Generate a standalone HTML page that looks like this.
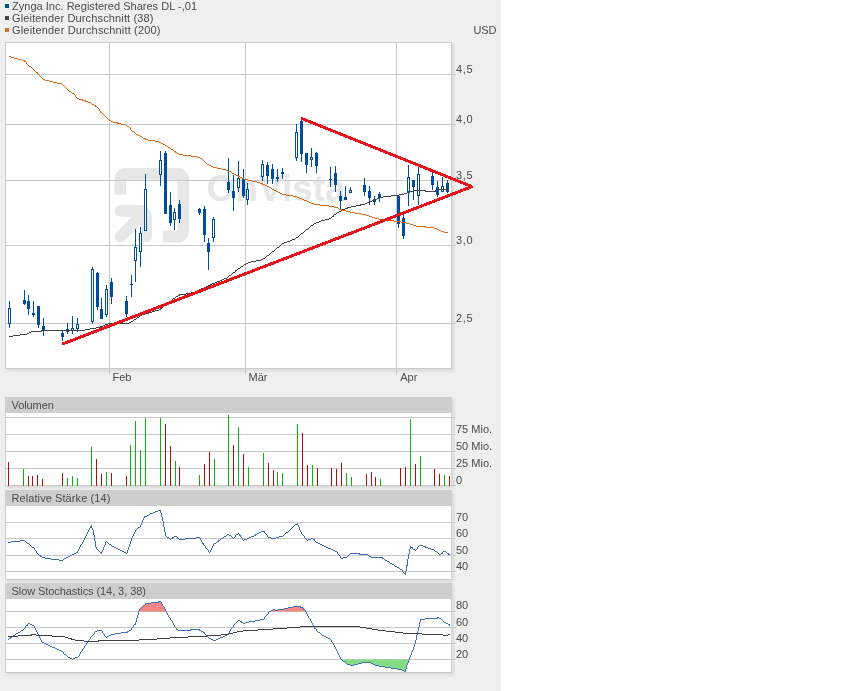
<!DOCTYPE html>
<html lang="de"><head><meta charset="utf-8"><title>Zynga Inc. Registered Shares DL -,01 – Chart</title>
<style>
html,body{margin:0;padding:0;background:#ffffff;}
body{width:850px;height:691px;overflow:hidden;position:relative;font-family:"Liberation Sans",sans-serif;}
#chart{position:absolute;left:0;top:0;width:501px;height:691px;background:#efefef;}
svg{position:absolute;left:0;top:0;display:block;}
svg text{font-family:"Liberation Sans",sans-serif;font-size:11px;fill:#484c4c;}
.wm{font-size:37px;font-weight:bold;fill:#e7e7e7;letter-spacing:0px;}
</style></head><body>
<div id="chart">
<svg width="501" height="691" viewBox="0 0 501 691">
<defs>
<filter id="sh" x="-5%" y="-5%" width="110%" height="115%"><feGaussianBlur stdDeviation="1.5"/></filter>
</defs>
<rect x="7" y="44" width="447" height="327" fill="#001008" opacity="0.09" filter="url(#sh)"/>
<rect x="7" y="399" width="447" height="89" fill="#001008" opacity="0.09" filter="url(#sh)"/>
<rect x="7" y="492" width="447" height="90" fill="#001008" opacity="0.09" filter="url(#sh)"/>
<rect x="7" y="585" width="447" height="90" fill="#001008" opacity="0.09" filter="url(#sh)"/>
<rect x="5" y="4" width="4" height="4" fill="#034c9b"/>
<rect x="5" y="16" width="4" height="4" fill="#444444"/>
<rect x="5" y="28" width="4" height="4" fill="#e0701e"/>
<text x="12" y="10" textLength="185" lengthAdjust="spacing">Zynga Inc. Registered Shares DL -,01</text>
<text x="12" y="22" textLength="141.5" lengthAdjust="spacing">Gleitender Durchschnitt (38)</text>
<text x="12" y="34" textLength="148.5" lengthAdjust="spacing">Gleitender Durchschnitt (200)</text>
<text x="473.5" y="34" textLength="23" lengthAdjust="spacing">USD</text>
<rect x="5" y="42" width="447" height="327" fill="#ffffff"/>
<g fill="none" stroke="#e7e7e7" stroke-width="11.6">
<path d="M120.2 194.5 V179.7 A5.8 5.8 0 0 1 126 173.9 H177.5 A5.8 5.8 0 0 1 183.3 179.7 V230.8 A5.8 5.8 0 0 1 177.5 236.6 H163"/>
<path stroke-linecap="round" stroke-linejoin="round" d="M120.3 210.9 H140.2 A5.8 5.8 0 0 1 146 216.7 V236.4"/>
<path stroke-linecap="round" d="M120.4 236.5 L144 213"/>
</g>
<text class="wm" x="206.5" y="200.5">OnVista</text>
<rect x="6" y="74" width="450" height="1" fill="#c9c9c9"/>
<rect x="6" y="124" width="450" height="1" fill="#c9c9c9"/>
<rect x="6" y="180" width="450" height="1" fill="#c9c9c9"/>
<rect x="6" y="245" width="450" height="1" fill="#c9c9c9"/>
<rect x="6" y="323" width="450" height="1" fill="#c9c9c9"/>
<rect x="109" y="43" width="1" height="332" fill="#c9c9c9"/>
<rect x="245" y="43" width="1" height="332" fill="#c9c9c9"/>
<rect x="396" y="43" width="1" height="332" fill="#c9c9c9"/>
<rect x="5.5" y="42.5" width="446" height="326" fill="none" stroke="#cbcbcb" stroke-width="1"/>
<g fill="#034c9b" shape-rendering="crispEdges">
<rect x="9" y="301" width="1" height="27"/>
<rect x="8" y="308" width="3" height="16"/>
<rect x="9" y="309" width="1" height="14" fill="#ffffff"/>
<rect x="24" y="290" width="1" height="15"/>
<rect x="23" y="300" width="3" height="4"/>
<rect x="28" y="295" width="1" height="20"/>
<rect x="27" y="301" width="3" height="8"/>
<rect x="33" y="301" width="1" height="16"/>
<rect x="32" y="313" width="3" height="2"/>
<rect x="38" y="306" width="1" height="22"/>
<rect x="37" y="306" width="3" height="19"/>
<rect x="43" y="318" width="1" height="18"/>
<rect x="42" y="326" width="3" height="5"/>
<rect x="62" y="331" width="1" height="10"/>
<rect x="61" y="333" width="3" height="4"/>
<rect x="67" y="323" width="1" height="11"/>
<rect x="66" y="329" width="3" height="3"/>
<rect x="72" y="316" width="1" height="18"/>
<rect x="71" y="328" width="3" height="3"/>
<rect x="72" y="329" width="1" height="1" fill="#ffffff"/>
<rect x="77" y="318" width="1" height="14"/>
<rect x="76" y="324" width="3" height="5"/>
<rect x="77" y="325" width="1" height="3" fill="#ffffff"/>
<rect x="92" y="267" width="1" height="57"/>
<rect x="91" y="269" width="3" height="53"/>
<rect x="92" y="270" width="1" height="51" fill="#ffffff"/>
<rect x="97" y="272" width="1" height="38"/>
<rect x="96" y="273" width="3" height="34"/>
<rect x="101" y="298" width="1" height="21"/>
<rect x="100" y="309" width="3" height="10"/>
<rect x="106" y="285" width="1" height="32"/>
<rect x="105" y="289" width="3" height="26"/>
<rect x="106" y="290" width="1" height="24" fill="#ffffff"/>
<rect x="111" y="278" width="1" height="26"/>
<rect x="110" y="282" width="3" height="15"/>
<rect x="126" y="296" width="1" height="21"/>
<rect x="125" y="301" width="3" height="13"/>
<rect x="131" y="275" width="1" height="22"/>
<rect x="130" y="284" width="3" height="1"/>
<rect x="135" y="229" width="1" height="53"/>
<rect x="134" y="247" width="3" height="14"/>
<rect x="135" y="248" width="1" height="12" fill="#ffffff"/>
<rect x="140" y="227" width="1" height="40"/>
<rect x="139" y="233" width="3" height="19"/>
<rect x="140" y="234" width="1" height="17" fill="#ffffff"/>
<rect x="145" y="174" width="1" height="57"/>
<rect x="144" y="189" width="3" height="42"/>
<rect x="145" y="190" width="1" height="40" fill="#ffffff"/>
<rect x="160" y="151" width="1" height="35"/>
<rect x="159" y="160" width="3" height="15"/>
<rect x="160" y="161" width="1" height="13" fill="#ffffff"/>
<rect x="165" y="151" width="1" height="63"/>
<rect x="164" y="153" width="3" height="61"/>
<rect x="170" y="192" width="1" height="34"/>
<rect x="169" y="205" width="3" height="18"/>
<rect x="174" y="208" width="1" height="22"/>
<rect x="173" y="212" width="3" height="8"/>
<rect x="174" y="213" width="1" height="6" fill="#ffffff"/>
<rect x="179" y="200" width="1" height="23"/>
<rect x="178" y="204" width="3" height="15"/>
<rect x="199" y="208" width="1" height="7"/>
<rect x="198" y="209" width="3" height="4"/>
<rect x="204" y="206" width="1" height="36"/>
<rect x="203" y="209" width="3" height="26"/>
<rect x="208" y="238" width="1" height="32"/>
<rect x="207" y="243" width="3" height="9"/>
<rect x="213" y="217" width="1" height="25"/>
<rect x="212" y="219" width="3" height="19"/>
<rect x="213" y="220" width="1" height="17" fill="#ffffff"/>
<rect x="228" y="158" width="1" height="35"/>
<rect x="227" y="182" width="3" height="8"/>
<rect x="233" y="175" width="1" height="36"/>
<rect x="232" y="191" width="3" height="7"/>
<rect x="238" y="161" width="1" height="31"/>
<rect x="237" y="178" width="3" height="10"/>
<rect x="238" y="179" width="1" height="8" fill="#ffffff"/>
<rect x="243" y="169" width="1" height="29"/>
<rect x="242" y="179" width="3" height="17"/>
<rect x="247" y="183" width="1" height="22"/>
<rect x="246" y="189" width="3" height="11"/>
<rect x="247" y="190" width="1" height="9" fill="#ffffff"/>
<rect x="262" y="160" width="1" height="21"/>
<rect x="261" y="164" width="3" height="13"/>
<rect x="262" y="165" width="1" height="11" fill="#ffffff"/>
<rect x="267" y="162" width="1" height="22"/>
<rect x="266" y="165" width="3" height="11"/>
<rect x="272" y="164" width="1" height="20"/>
<rect x="271" y="169" width="3" height="10"/>
<rect x="277" y="169" width="1" height="13"/>
<rect x="276" y="177" width="3" height="2"/>
<rect x="282" y="168" width="1" height="11"/>
<rect x="281" y="172" width="3" height="2"/>
<rect x="296" y="124" width="1" height="37"/>
<rect x="295" y="132" width="3" height="26"/>
<rect x="296" y="133" width="1" height="24" fill="#ffffff"/>
<rect x="301" y="120" width="1" height="42"/>
<rect x="300" y="121" width="3" height="33"/>
<rect x="306" y="153" width="1" height="20"/>
<rect x="305" y="153" width="3" height="12"/>
<rect x="311" y="148" width="1" height="19"/>
<rect x="310" y="157" width="3" height="3"/>
<rect x="311" y="158" width="1" height="1" fill="#ffffff"/>
<rect x="316" y="152" width="1" height="21"/>
<rect x="315" y="153" width="3" height="13"/>
<rect x="330" y="167" width="1" height="20"/>
<rect x="329" y="179" width="3" height="1"/>
<rect x="335" y="166" width="1" height="26"/>
<rect x="334" y="173" width="3" height="12"/>
<rect x="340" y="191" width="1" height="18"/>
<rect x="339" y="196" width="3" height="5"/>
<rect x="345" y="186" width="1" height="14"/>
<rect x="344" y="197" width="3" height="3"/>
<rect x="350" y="187" width="1" height="6"/>
<rect x="349" y="190" width="3" height="3"/>
<rect x="350" y="191" width="1" height="1" fill="#ffffff"/>
<rect x="364" y="178" width="1" height="18"/>
<rect x="363" y="185" width="3" height="7"/>
<rect x="369" y="186" width="1" height="19"/>
<rect x="368" y="191" width="3" height="7"/>
<rect x="374" y="196" width="1" height="9"/>
<rect x="373" y="199" width="3" height="3"/>
<rect x="374" y="200" width="1" height="1" fill="#ffffff"/>
<rect x="379" y="192" width="1" height="10"/>
<rect x="378" y="194" width="3" height="4"/>
<rect x="398" y="196" width="1" height="32"/>
<rect x="397" y="196" width="3" height="28"/>
<rect x="403" y="214" width="1" height="25"/>
<rect x="402" y="218" width="3" height="18"/>
<rect x="408" y="165" width="1" height="41"/>
<rect x="407" y="177" width="3" height="15"/>
<rect x="408" y="178" width="1" height="13" fill="#ffffff"/>
<rect x="413" y="180" width="1" height="20"/>
<rect x="412" y="180" width="3" height="7"/>
<rect x="418" y="167" width="1" height="38"/>
<rect x="417" y="174" width="3" height="22"/>
<rect x="418" y="175" width="1" height="20" fill="#ffffff"/>
<rect x="432" y="172" width="1" height="18"/>
<rect x="431" y="176" width="3" height="9"/>
<rect x="437" y="181" width="1" height="16"/>
<rect x="436" y="187" width="3" height="8"/>
<rect x="442" y="177" width="1" height="15"/>
<rect x="441" y="186" width="3" height="6"/>
<rect x="442" y="187" width="1" height="4" fill="#ffffff"/>
<rect x="447" y="180" width="1" height="13"/>
<rect x="446" y="183" width="3" height="9"/>
</g>
<path d="M9 56.5h2M11 57.5h3M14 58.5h4M18 59.5h4M22 60.5h3M24 61.5h2M26 62.5h1M26 63.5h1M27 64.5h1M28 65.5h1M29 66.5h2M31 67.5h1M32 68.5h1M33 69.5h1M34 70.5h1M35 71.5h1M36 72.5h2M37 73.5h1M38 74.5h1M39 75.5h1M40 76.5h1M41 77.5h1M42 78.5h1M43 79.5h2M45 80.5h4M49 81.5h4M53 82.5h4M57 83.5h5M62 84.5h1M63 85.5h1M64 86.5h1M65 87.5h1M66 88.5h1M67 89.5h1M68 90.5h1M69 91.5h2M71 92.5h1M72 93.5h2M74 94.5h1M75 95.5h1M75 96.5h1M76 97.5h1M77 98.5h2M79 99.5h4M82 100.5h4M85 101.5h3M88 102.5h3M91 103.5h1M92 104.5h2M94 105.5h2M95 106.5h2M97 107.5h1M98 108.5h1M99 109.5h1M99 110.5h1M100 111.5h1M100 112.5h2M102 113.5h1M103 114.5h1M104 115.5h1M105 116.5h1M106 117.5h1M107 118.5h1M108 119.5h1M109 120.5h2M111 121.5h2M113 122.5h5M117 123.5h4M121 124.5h5M126 125.5h1M127 126.5h2M129 127.5h1M130 128.5h1M130 129.5h1M131 130.5h1M132 131.5h2M134 132.5h1M135 133.5h1M136 134.5h2M138 135.5h2M140 136.5h2M142 137.5h1M143 138.5h3M145 139.5h3M148 140.5h7M155 141.5h4M159 142.5h2M161 143.5h2M163 144.5h2M165 145.5h2M167 146.5h1M168 147.5h2M170 148.5h1M171 149.5h2M173 150.5h1M174 151.5h2M175 152.5h2M177 153.5h2M179 154.5h4M183 155.5h8M191 156.5h6M197 157.5h3M200 158.5h2M202 159.5h1M203 160.5h1M204 161.5h1M205 162.5h1M206 163.5h1M207 164.5h2M209 165.5h2M211 166.5h2M213 167.5h4M217 168.5h5M222 169.5h4M226 170.5h2M228 171.5h3M231 172.5h1M232 173.5h2M234 174.5h2M236 175.5h2M238 176.5h2M240 177.5h2M242 178.5h2M244 179.5h4M248 180.5h4M252 181.5h5M257 182.5h3M260 183.5h3M262 184.5h3M265 185.5h2M267 186.5h2M269 187.5h2M271 188.5h1M272 189.5h2M274 190.5h2M276 191.5h2M278 192.5h2M280 193.5h2M282 194.5h4M286 195.5h7M293 196.5h4M297 197.5h2M299 198.5h3M302 199.5h2M304 200.5h3M307 201.5h2M309 202.5h2M311 203.5h3M314 204.5h6M320 205.5h9M329 206.5h5M334 207.5h4M338 208.5h1M339 209.5h3M342 210.5h4M346 211.5h4M350 212.5h5M355 213.5h6M361 214.5h5M366 215.5h3M369 216.5h3M372 217.5h3M375 218.5h4M379 219.5h7M386 220.5h8M394 221.5h7M401 222.5h5M406 223.5h4M410 224.5h3M413 225.5h3M416 226.5h10M426 227.5h8M434 228.5h3M437 229.5h2M439 230.5h2M441 231.5h3M444 232.5h4" fill="none" stroke="#db6814" stroke-width="1" shape-rendering="crispEdges"/>
<path d="M437 189.5h11M413 190.5h13M435 190.5h2M410 191.5h3M425 191.5h11M407 192.5h3M404 193.5h3M399 194.5h5M391 195.5h8M383 196.5h8M379 197.5h4M377 198.5h2M375 199.5h2M372 200.5h3M370 201.5h2M367 202.5h3M365 203.5h2M360 204.5h5M356 205.5h5M351 206.5h5M347 207.5h4M345 208.5h3M342 209.5h3M341 210.5h1M339 211.5h2M337 212.5h2M336 213.5h1M334 214.5h2M333 215.5h1M332 216.5h2M331 217.5h1M329 218.5h2M325 219.5h4M321 220.5h4M319 221.5h2M316 222.5h3M314 223.5h2M313 224.5h1M311 225.5h2M310 226.5h1M309 227.5h1M308 228.5h1M306 229.5h2M305 230.5h1M304 231.5h1M303 232.5h1M301 233.5h2M300 234.5h1M299 235.5h1M298 236.5h1M296 237.5h2M295 238.5h1M292 239.5h3M290 240.5h2M287 241.5h3M284 242.5h3M282 243.5h2M281 244.5h1M280 245.5h1M279 246.5h1M277 247.5h2M276 248.5h1M275 249.5h1M274 250.5h1M272 251.5h2M271 252.5h1M270 253.5h1M269 254.5h1M267 255.5h2M266 256.5h1M265 257.5h1M263 258.5h2M261 259.5h2M256 260.5h5M251 261.5h5M248 262.5h3M246 263.5h2M244 264.5h2M243 265.5h1M241 266.5h2M240 267.5h1M238 268.5h2M237 269.5h1M235 270.5h2M235 271.5h1M233 272.5h2M232 273.5h1M231 274.5h1M229 275.5h2M228 276.5h1M227 277.5h1M224 278.5h3M222 279.5h2M220 280.5h2M217 281.5h3M215 282.5h2M212 283.5h3M210 284.5h2M208 285.5h2M206 286.5h2M204 287.5h2M201 288.5h3M199 289.5h2M198 290.5h1M195 291.5h3M191 292.5h4M186 293.5h5M179 294.5h7M178 295.5h2M176 296.5h2M175 297.5h1M173 298.5h2M172 299.5h1M171 300.5h1M170 301.5h1M168 302.5h2M167 303.5h1M166 304.5h1M164 305.5h2M163 306.5h1M162 307.5h1M160 308.5h2M159 309.5h2M155 310.5h4M152 311.5h3M149 312.5h3M145 313.5h4M142 314.5h3M140 315.5h2M139 316.5h1M137 317.5h2M136 318.5h1M134 319.5h2M133 320.5h1M131 321.5h2M129 322.5h2M108 323.5h21M105 324.5h3M103 325.5h2M100 326.5h3M96 327.5h5M90 328.5h6M85 329.5h5M41 330.5h44M31 331.5h11M29 332.5h2M27 333.5h2M20 334.5h7M13 335.5h7M9 336.5h4" fill="none" stroke="#424242" stroke-width="1" shape-rendering="crispEdges"/>
<g stroke="#e8131c" stroke-width="3" stroke-linecap="round" fill="none" shape-rendering="crispEdges">
<path d="M63.5 343.6 L471.3 186.9"/>
<path d="M302.2 118.6 L471.3 186.4"/>
</g>
<text x="456" y="73" textLength="16.5" lengthAdjust="spacing">4,5</text>
<text x="456" y="123" textLength="16.5" lengthAdjust="spacing">4,0</text>
<text x="456" y="179" textLength="16.5" lengthAdjust="spacing">3,5</text>
<text x="456" y="244" textLength="16.5" lengthAdjust="spacing">3,0</text>
<text x="456" y="322" textLength="16.5" lengthAdjust="spacing">2,5</text>
<text x="112.5" y="381">Feb</text>
<text x="248.5" y="381">Mär</text>
<text x="400.2" y="381">Apr</text>
<rect x="5" y="397" width="447" height="89" fill="#ffffff"/>
<rect x="5" y="397" width="447" height="16" fill="#cecece"/>
<rect x="5" y="413" width="1" height="73" fill="#cfcfcf"/>
<rect x="451" y="413" width="1" height="73" fill="#d6d6d6"/>
<rect x="5" y="485" width="447" height="1" fill="#c9c9c9"/>
<rect x="6" y="417" width="450" height="1" fill="#c9c9c9"/>
<rect x="6" y="434" width="450" height="1" fill="#c9c9c9"/>
<rect x="6" y="451" width="450" height="1" fill="#c9c9c9"/>
<rect x="6" y="468" width="450" height="1" fill="#c9c9c9"/>
<text x="11.5" y="408.6" textLength="42.3" lengthAdjust="spacing">Volumen</text>
<text x="456" y="433">75 Mio.</text>
<text x="456" y="450">50 Mio.</text>
<text x="456" y="467">25 Mio.</text>
<text x="456" y="483.5">0</text>
<rect x="452" y="485" width="4" height="1" fill="#c9c9c9"/>
<g shape-rendering="crispEdges">
<rect x="8" y="462" width="1" height="24" fill="#b40d0d"/>
<rect x="23" y="469" width="1" height="17" fill="#0db40d"/>
<rect x="28" y="476" width="1" height="10" fill="#b40d0d"/>
<rect x="32" y="476" width="1" height="10" fill="#b40d0d"/>
<rect x="37" y="475" width="1" height="11" fill="#b40d0d"/>
<rect x="42" y="479" width="1" height="7" fill="#b40d0d"/>
<rect x="62" y="473" width="1" height="13" fill="#b40d0d"/>
<rect x="67" y="478" width="1" height="8" fill="#0db40d"/>
<rect x="72" y="476" width="1" height="10" fill="#0db40d"/>
<rect x="77" y="478" width="1" height="8" fill="#0db40d"/>
<rect x="91" y="447" width="1" height="39" fill="#0db40d"/>
<rect x="96" y="459" width="1" height="27" fill="#b40d0d"/>
<rect x="101" y="474" width="1" height="12" fill="#b40d0d"/>
<rect x="106" y="472" width="1" height="14" fill="#0db40d"/>
<rect x="111" y="473" width="1" height="13" fill="#b40d0d"/>
<rect x="126" y="476" width="1" height="10" fill="#b40d0d"/>
<rect x="130" y="445" width="1" height="41" fill="#0db40d"/>
<rect x="135" y="421" width="1" height="65" fill="#0db40d"/>
<rect x="140" y="450" width="1" height="36" fill="#0db40d"/>
<rect x="145" y="418" width="1" height="68" fill="#0db40d"/>
<rect x="160" y="418" width="1" height="68" fill="#0db40d"/>
<rect x="165" y="424" width="1" height="62" fill="#b40d0d"/>
<rect x="170" y="446" width="1" height="40" fill="#b40d0d"/>
<rect x="175" y="461" width="1" height="25" fill="#0db40d"/>
<rect x="179" y="467" width="1" height="19" fill="#b40d0d"/>
<rect x="199" y="475" width="1" height="11" fill="#0db40d"/>
<rect x="204" y="464" width="1" height="22" fill="#b40d0d"/>
<rect x="209" y="452" width="1" height="34" fill="#b40d0d"/>
<rect x="214" y="459" width="1" height="27" fill="#0db40d"/>
<rect x="228" y="415" width="1" height="71" fill="#0db40d"/>
<rect x="233" y="445" width="1" height="41" fill="#b40d0d"/>
<rect x="238" y="427" width="1" height="59" fill="#0db40d"/>
<rect x="243" y="454" width="1" height="32" fill="#b40d0d"/>
<rect x="248" y="467" width="1" height="19" fill="#0db40d"/>
<rect x="263" y="453" width="1" height="33" fill="#0db40d"/>
<rect x="268" y="463" width="1" height="23" fill="#b40d0d"/>
<rect x="273" y="470" width="1" height="16" fill="#b40d0d"/>
<rect x="277" y="472" width="1" height="14" fill="#0db40d"/>
<rect x="282" y="473" width="1" height="13" fill="#0db40d"/>
<rect x="297" y="424" width="1" height="62" fill="#0db40d"/>
<rect x="302" y="433" width="1" height="53" fill="#b40d0d"/>
<rect x="307" y="465" width="1" height="21" fill="#b40d0d"/>
<rect x="312" y="465" width="1" height="21" fill="#0db40d"/>
<rect x="317" y="468" width="1" height="18" fill="#b40d0d"/>
<rect x="331" y="468" width="1" height="18" fill="#b40d0d"/>
<rect x="336" y="469" width="1" height="17" fill="#b40d0d"/>
<rect x="341" y="463" width="1" height="23" fill="#b40d0d"/>
<rect x="346" y="473" width="1" height="13" fill="#0db40d"/>
<rect x="351" y="477" width="1" height="9" fill="#0db40d"/>
<rect x="366" y="474" width="1" height="12" fill="#b40d0d"/>
<rect x="371" y="472" width="1" height="14" fill="#b40d0d"/>
<rect x="375" y="477" width="1" height="9" fill="#b40d0d"/>
<rect x="380" y="479" width="1" height="7" fill="#0db40d"/>
<rect x="400" y="468" width="1" height="18" fill="#b40d0d"/>
<rect x="405" y="467" width="1" height="19" fill="#b40d0d"/>
<rect x="410" y="419" width="1" height="67" fill="#0db40d"/>
<rect x="415" y="464" width="1" height="22" fill="#b40d0d"/>
<rect x="420" y="456" width="1" height="30" fill="#0db40d"/>
<rect x="434" y="469" width="1" height="17" fill="#b40d0d"/>
<rect x="439" y="474" width="1" height="12" fill="#b40d0d"/>
<rect x="444" y="475" width="1" height="11" fill="#0db40d"/>
<rect x="449" y="476" width="1" height="10" fill="#b40d0d"/>
</g>
<rect x="5" y="490" width="447" height="90" fill="#ffffff"/>
<rect x="5" y="490" width="447" height="16" fill="#cecece"/>
<rect x="5" y="506" width="1" height="74" fill="#cfcfcf"/>
<rect x="451" y="506" width="1" height="74" fill="#d6d6d6"/>
<rect x="5" y="579" width="447" height="1" fill="#c9c9c9"/>
<rect x="6" y="522" width="450" height="1" fill="#c9c9c9"/>
<rect x="6" y="538" width="450" height="1" fill="#c9c9c9"/>
<rect x="6" y="555" width="450" height="1" fill="#c9c9c9"/>
<rect x="6" y="571" width="450" height="1" fill="#c9c9c9"/>
<text x="11.5" y="501.6" textLength="98.8" lengthAdjust="spacing">Relative Stärke (14)</text>
<text x="456" y="520.5">70</text>
<text x="456" y="537">60</text>
<text x="456" y="553.5">50</text>
<text x="456" y="569.5">40</text>
<path d="M158 510.5h3M155 511.5h3M160 511.5h1M153 512.5h2M160 512.5h1M150 513.5h3M161 513.5h1M149 514.5h1M161 514.5h1M147 515.5h2M161 515.5h1M144 516.5h3M161 516.5h1M144 517.5h1M162 517.5h1M143 518.5h1M162 518.5h1M143 519.5h1M162 519.5h1M142 520.5h1M162 520.5h1M142 521.5h1M163 521.5h1M142 522.5h1M163 522.5h1M141 523.5h1M163 523.5h1M297 523.5h1M141 524.5h1M163 524.5h1M295 524.5h3M91 525.5h1M140 525.5h1M163 525.5h1M294 525.5h1M298 525.5h1M90 526.5h2M140 526.5h1M163 526.5h1M293 526.5h1M298 526.5h1M90 527.5h2M138 527.5h2M164 527.5h1M292 527.5h1M299 527.5h1M89 528.5h1M92 528.5h1M137 528.5h1M164 528.5h1M291 528.5h1M299 528.5h1M89 529.5h1M92 529.5h1M136 529.5h1M164 529.5h1M290 529.5h1M299 529.5h1M88 530.5h1M93 530.5h1M135 530.5h1M164 530.5h1M289 530.5h1M300 530.5h1M88 531.5h1M93 531.5h1M135 531.5h1M164 531.5h1M261 531.5h4M288 531.5h1M300 531.5h1M87 532.5h1M93 532.5h1M134 532.5h1M165 532.5h1M259 532.5h2M264 532.5h1M286 532.5h2M301 532.5h1M87 533.5h1M93 533.5h1M134 533.5h1M165 533.5h1M238 533.5h1M257 533.5h2M265 533.5h1M285 533.5h1M301 533.5h1M86 534.5h1M93 534.5h1M133 534.5h1M165 534.5h1M227 534.5h2M236 534.5h2M239 534.5h1M255 534.5h2M266 534.5h1M284 534.5h1M302 534.5h1M86 535.5h1M94 535.5h1M133 535.5h1M165 535.5h1M226 535.5h1M229 535.5h2M235 535.5h1M239 535.5h2M254 535.5h2M267 535.5h1M283 535.5h1M303 535.5h1M85 536.5h1M94 536.5h1M132 536.5h1M166 536.5h1M174 536.5h3M224 536.5h2M231 536.5h1M235 536.5h1M240 536.5h1M251 536.5h3M267 536.5h1M279 536.5h4M304 536.5h1M85 537.5h1M94 537.5h1M132 537.5h1M167 537.5h2M172 537.5h2M177 537.5h1M196 537.5h4M223 537.5h1M232 537.5h1M234 537.5h1M241 537.5h1M249 537.5h2M268 537.5h3M276 537.5h3M304 537.5h1M84 538.5h1M94 538.5h1M131 538.5h1M169 538.5h1M171 538.5h2M177 538.5h2M185 538.5h11M200 538.5h1M221 538.5h2M233 538.5h1M242 538.5h1M247 538.5h2M271 538.5h5M305 538.5h1M311 538.5h2M84 539.5h1M94 539.5h1M131 539.5h1M170 539.5h1M179 539.5h6M200 539.5h1M220 539.5h1M242 539.5h1M244 539.5h3M306 539.5h1M308 539.5h3M313 539.5h2M20 540.5h5M83 540.5h1M94 540.5h1M131 540.5h1M201 540.5h1M218 540.5h2M243 540.5h1M307 540.5h1M314 540.5h1M11 541.5h9M25 541.5h1M83 541.5h1M95 541.5h1M106 541.5h1M130 541.5h1M201 541.5h1M217 541.5h2M315 541.5h1M8 542.5h3M26 542.5h1M82 542.5h1M95 542.5h1M105 542.5h1M107 542.5h1M130 542.5h1M202 542.5h1M216 542.5h1M316 542.5h2M27 543.5h2M82 543.5h1M95 543.5h1M105 543.5h1M108 543.5h1M130 543.5h1M202 543.5h2M214 543.5h2M318 543.5h2M29 544.5h1M81 544.5h1M95 544.5h1M105 544.5h1M109 544.5h2M129 544.5h1M203 544.5h1M213 544.5h1M320 544.5h2M30 545.5h1M80 545.5h1M95 545.5h1M104 545.5h1M111 545.5h1M129 545.5h1M204 545.5h1M213 545.5h1M322 545.5h2M419 545.5h4M31 546.5h1M80 546.5h1M95 546.5h1M104 546.5h1M112 546.5h2M129 546.5h1M205 546.5h1M212 546.5h1M324 546.5h2M410 546.5h1M418 546.5h1M423 546.5h3M32 547.5h2M79 547.5h1M96 547.5h1M103 547.5h1M114 547.5h2M128 547.5h1M205 547.5h1M212 547.5h1M326 547.5h2M410 547.5h3M417 547.5h1M425 547.5h3M34 548.5h1M79 548.5h1M96 548.5h1M103 548.5h1M116 548.5h2M128 548.5h1M206 548.5h1M211 548.5h1M328 548.5h3M410 548.5h1M412 548.5h1M417 548.5h1M428 548.5h3M34 549.5h1M78 549.5h1M97 549.5h1M103 549.5h1M118 549.5h2M128 549.5h1M207 549.5h1M211 549.5h1M331 549.5h2M409 549.5h1M413 549.5h2M416 549.5h1M431 549.5h3M35 550.5h1M78 550.5h1M98 550.5h1M102 550.5h1M120 550.5h2M127 550.5h1M208 550.5h1M210 550.5h1M333 550.5h2M409 550.5h1M415 550.5h1M434 550.5h1M36 551.5h1M77 551.5h1M99 551.5h1M102 551.5h1M122 551.5h2M127 551.5h1M208 551.5h1M210 551.5h1M335 551.5h2M409 551.5h1M435 551.5h2M443 551.5h3M36 552.5h1M76 552.5h2M100 552.5h2M124 552.5h2M127 552.5h1M209 552.5h1M337 552.5h1M409 552.5h1M437 552.5h1M442 552.5h1M446 552.5h1M37 553.5h1M74 553.5h2M101 553.5h1M126 553.5h1M337 553.5h1M350 553.5h10M409 553.5h1M438 553.5h1M441 553.5h2M447 553.5h2M38 554.5h1M72 554.5h2M338 554.5h1M349 554.5h1M359 554.5h9M408 554.5h1M439 554.5h2M448 554.5h2M39 555.5h2M70 555.5h2M339 555.5h1M348 555.5h1M368 555.5h1M408 555.5h1M40 556.5h2M68 556.5h2M340 556.5h1M347 556.5h1M369 556.5h2M408 556.5h1M42 557.5h3M66 557.5h2M340 557.5h1M343 557.5h4M371 557.5h12M408 557.5h1M45 558.5h6M64 558.5h2M341 558.5h2M382 558.5h2M408 558.5h1M51 559.5h8M63 559.5h1M384 559.5h1M407 559.5h1M59 560.5h4M385 560.5h2M407 560.5h1M387 561.5h2M407 561.5h1M389 562.5h1M407 562.5h1M390 563.5h2M407 563.5h1M392 564.5h2M407 564.5h1M394 565.5h1M406 565.5h2M395 566.5h2M406 566.5h1M397 567.5h2M406 567.5h1M399 568.5h1M406 568.5h1M400 569.5h2M406 569.5h1M402 570.5h1M406 570.5h1M402 571.5h1M405 571.5h1M403 572.5h1M405 572.5h1M404 573.5h2M405 574.5h1" fill="none" stroke="#4169b0" stroke-width="1" shape-rendering="crispEdges"/>
<rect x="5" y="583" width="447" height="90" fill="#ffffff"/>
<rect x="5" y="583" width="447" height="16" fill="#cecece"/>
<rect x="5" y="599" width="1" height="74" fill="#cfcfcf"/>
<rect x="451" y="599" width="1" height="74" fill="#d6d6d6"/>
<rect x="5" y="672" width="447" height="1" fill="#c9c9c9"/>
<rect x="6" y="611" width="450" height="1" fill="#c9c9c9"/>
<rect x="6" y="627" width="450" height="1" fill="#c9c9c9"/>
<rect x="6" y="643" width="450" height="1" fill="#c9c9c9"/>
<rect x="6" y="659" width="450" height="1" fill="#c9c9c9"/>
<text x="11.5" y="594.6" textLength="134.4" lengthAdjust="spacing">Slow Stochastics (14, 3, 38)</text>
<text x="456" y="609">80</text>
<text x="456" y="625.5">60</text>
<text x="456" y="641.5">40</text>
<text x="456" y="657.5">20</text>
<polygon points="139.0,611.5 140.1,608.2 145.1,604.2 148.3,603.3 157.3,602.2 160.6,601.4 165.5,610.7 166.0,611.5" fill="#f58484"/>
<polygon points="269.8,611.5 273.9,609.1 275.5,610.4 280.4,609.6 287.7,608.2 296.7,606.3 299.2,606.3 303.3,608.2 305.5,611.5" fill="#f58484"/>
<polygon points="341.6,659.5 346.3,663.8 351.2,665.5 364.2,662.5 370.8,662.5 375.7,665.5 390.4,667.9 400.2,669.5 405.1,671.7 409.1,659.5" fill="#84dc84"/>
<path d="M158 601.5h3M151 602.5h8M161 602.5h1M145 603.5h6M161 603.5h1M145 604.5h1M162 604.5h1M143 605.5h2M162 605.5h1M142 606.5h1M163 606.5h1M293 606.5h8M141 607.5h1M164 607.5h1M288 607.5h5M300 607.5h3M140 608.5h1M164 608.5h1M284 608.5h4M303 608.5h1M139 609.5h1M165 609.5h1M273 609.5h2M278 609.5h6M303 609.5h2M139 610.5h1M165 610.5h1M271 610.5h2M275 610.5h3M305 610.5h1M138 611.5h1M166 611.5h1M269 611.5h2M305 611.5h1M138 612.5h1M166 612.5h1M268 612.5h1M306 612.5h1M138 613.5h1M167 613.5h1M268 613.5h1M306 613.5h1M138 614.5h1M167 614.5h1M267 614.5h1M307 614.5h1M137 615.5h1M168 615.5h1M266 615.5h1M307 615.5h1M137 616.5h1M168 616.5h1M265 616.5h1M308 616.5h1M137 617.5h1M169 617.5h1M264 617.5h1M308 617.5h1M437 617.5h2M136 618.5h1M170 618.5h1M264 618.5h1M309 618.5h1M425 618.5h13M439 618.5h2M136 619.5h1M170 619.5h1M260 619.5h4M310 619.5h1M420 619.5h5M441 619.5h1M136 620.5h1M171 620.5h1M238 620.5h2M255 620.5h5M310 620.5h1M420 620.5h1M442 620.5h1M136 621.5h1M172 621.5h1M237 621.5h1M240 621.5h2M249 621.5h6M311 621.5h1M420 621.5h1M443 621.5h1M135 622.5h1M172 622.5h1M236 622.5h1M241 622.5h2M245 622.5h4M311 622.5h1M419 622.5h1M444 622.5h2M28 623.5h2M135 623.5h1M173 623.5h1M235 623.5h1M243 623.5h2M312 623.5h1M419 623.5h1M446 623.5h2M27 624.5h1M30 624.5h2M134 624.5h2M173 624.5h1M234 624.5h1M312 624.5h1M419 624.5h1M448 624.5h2M26 625.5h2M32 625.5h2M133 625.5h1M174 625.5h1M233 625.5h1M313 625.5h1M419 625.5h1M449 625.5h1M25 626.5h1M34 626.5h1M133 626.5h1M174 626.5h1M233 626.5h1M313 626.5h1M419 626.5h1M25 627.5h1M34 627.5h1M132 627.5h1M175 627.5h1M232 627.5h1M314 627.5h1M418 627.5h1M24 628.5h1M35 628.5h1M131 628.5h1M176 628.5h1M231 628.5h1M314 628.5h2M418 628.5h1M23 629.5h1M35 629.5h1M131 629.5h1M176 629.5h2M190 629.5h10M230 629.5h1M316 629.5h1M418 629.5h1M21 630.5h2M36 630.5h1M97 630.5h5M129 630.5h2M178 630.5h13M199 630.5h2M230 630.5h1M316 630.5h1M418 630.5h1M20 631.5h1M36 631.5h1M95 631.5h2M102 631.5h1M127 631.5h2M201 631.5h2M229 631.5h1M317 631.5h1M417 631.5h1M18 632.5h2M37 632.5h1M94 632.5h1M102 632.5h1M121 632.5h7M203 632.5h2M229 632.5h1M318 632.5h2M417 632.5h1M16 633.5h2M37 633.5h1M94 633.5h1M103 633.5h1M115 633.5h6M204 633.5h1M228 633.5h1M320 633.5h1M417 633.5h1M15 634.5h1M38 634.5h1M93 634.5h1M104 634.5h1M111 634.5h4M205 634.5h1M227 634.5h2M321 634.5h1M417 634.5h1M13 635.5h2M38 635.5h1M92 635.5h1M104 635.5h1M109 635.5h2M206 635.5h1M225 635.5h2M322 635.5h2M416 635.5h1M12 636.5h1M39 636.5h1M91 636.5h1M105 636.5h1M107 636.5h2M207 636.5h1M223 636.5h2M324 636.5h2M416 636.5h1M10 637.5h2M39 637.5h1M90 637.5h1M106 637.5h1M208 637.5h1M220 637.5h3M326 637.5h2M416 637.5h1M9 638.5h2M40 638.5h1M90 638.5h1M209 638.5h2M218 638.5h2M328 638.5h2M416 638.5h1M8 639.5h1M40 639.5h1M89 639.5h1M211 639.5h2M216 639.5h2M330 639.5h1M416 639.5h1M41 640.5h1M88 640.5h1M213 640.5h3M331 640.5h1M415 640.5h1M41 641.5h1M88 641.5h1M331 641.5h1M415 641.5h1M42 642.5h2M87 642.5h1M332 642.5h1M415 642.5h1M44 643.5h2M86 643.5h1M333 643.5h1M415 643.5h1M46 644.5h2M86 644.5h1M333 644.5h1M414 644.5h1M48 645.5h2M85 645.5h1M334 645.5h1M414 645.5h1M50 646.5h2M84 646.5h1M334 646.5h1M414 646.5h1M52 647.5h3M84 647.5h1M335 647.5h1M413 647.5h1M55 648.5h2M83 648.5h1M335 648.5h1M413 648.5h1M57 649.5h2M82 649.5h1M336 649.5h1M413 649.5h1M59 650.5h2M82 650.5h1M336 650.5h1M412 650.5h1M61 651.5h2M81 651.5h1M337 651.5h1M412 651.5h1M63 652.5h1M80 652.5h1M337 652.5h1M411 652.5h1M63 653.5h1M80 653.5h1M338 653.5h1M411 653.5h1M64 654.5h2M79 654.5h1M338 654.5h1M411 654.5h1M66 655.5h1M79 655.5h1M339 655.5h1M410 655.5h1M67 656.5h1M78 656.5h1M339 656.5h1M410 656.5h1M68 657.5h2M75 657.5h3M340 657.5h1M409 657.5h1M70 658.5h2M73 658.5h2M340 658.5h1M409 658.5h1M72 659.5h1M341 659.5h1M409 659.5h1M342 660.5h1M408 660.5h1M343 661.5h2M408 661.5h1M345 662.5h1M362 662.5h9M408 662.5h1M346 663.5h1M358 663.5h4M371 663.5h2M407 663.5h1M347 664.5h3M354 664.5h4M373 664.5h2M407 664.5h1M350 665.5h4M375 665.5h4M406 665.5h1M379 666.5h6M406 666.5h1M385 667.5h6M406 667.5h1M391 668.5h6M406 668.5h1M397 669.5h5M405 669.5h1M402 670.5h2M405 670.5h1M404 671.5h2" fill="none" stroke="#4270bc" stroke-width="1" shape-rendering="crispEdges"/>
<path d="M300 626.5h60M287 627.5h13M360 627.5h6M273 628.5h14M366 628.5h6M258 629.5h15M372 629.5h6M243 630.5h15M378 630.5h8M237 631.5h6M386 631.5h9M233 632.5h4M395 632.5h8M228 633.5h5M403 633.5h19M31 634.5h5M221 634.5h7M422 634.5h21M448 634.5h2M18 635.5h14M36 635.5h16M207 635.5h14M443 635.5h5M8 636.5h10M52 636.5h13M188 636.5h19M65 637.5h3M170 637.5h18M68 638.5h4M157 638.5h13M71 639.5h4M139 639.5h18M75 640.5h9M98 640.5h41M84 641.5h15" fill="none" stroke="#404040" stroke-width="1" shape-rendering="crispEdges"/>
</svg></div></body></html>
